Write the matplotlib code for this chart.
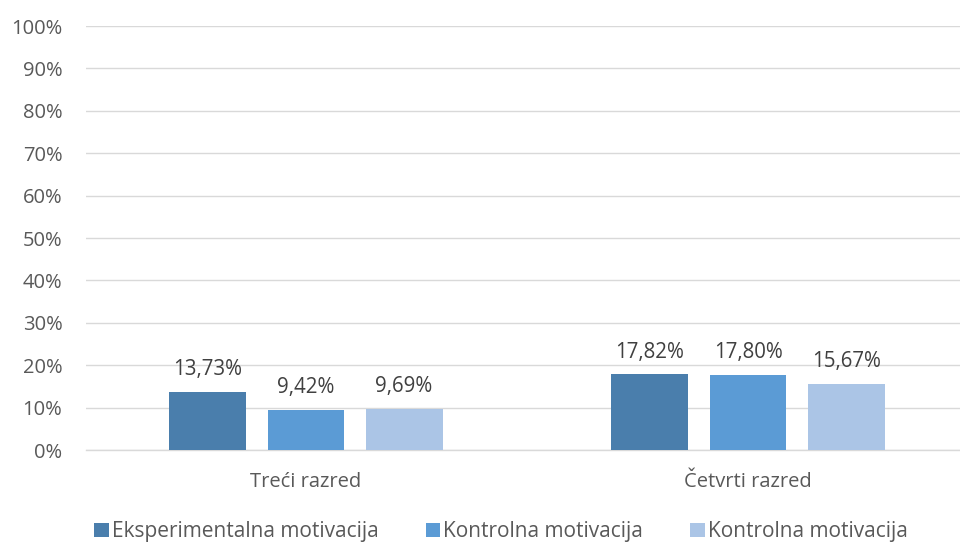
import matplotlib
matplotlib.use("Agg")
import matplotlib.pyplot as plt
import numpy as np

categories = ["Treći razred", "Četvrti razred"]
series_names = ["Eksperimentalna motivacija", "Kontrolna motivacija", "Kontrolna motivacija"]
values = [
    [13.73, 17.82],
    [9.42, 17.80],
    [9.69, 15.67],
]
yticks = list(range(0, 101, 10))
colors = ["#4a7eac", "#5b9bd5", "#abc5e6"]

plt.rcParams['font.family'] = ['Open Sans', 'DejaVu Sans']
text_color = "#595959"

fig = plt.figure(figsize=(9.6, 5.44), dpi=100)
ax = fig.add_axes([86/960, 1 - 450/544, (960-86)/960, (450-26)/544])

x = np.arange(len(categories))
bw = 0.174
step = 0.222
for i, (name, vals) in enumerate(zip(series_names, values)):
    pos = x + (i - 1) * step
    ax.bar(pos, vals, width=bw, color=colors[i], label=name, zorder=3)
    for p, v in zip(pos, vals):
        ax.text(p, v + 2.8, f"{v:.2f}%".replace(".", ","), ha="center", va="bottom",
                fontsize=14.8, color="#404040")

ax.set_ylim(0, 100)
ax.set_xlim(-0.4977, 1.4796)
ax.set_yticks(yticks)
ax.set_yticklabels([f"{t}%" for t in yticks], fontsize=14.5, color=text_color)
ax.set_xticks(x)
ax.set_xticklabels(categories, fontsize=14.5, color=text_color)
ax.tick_params(axis="both", length=0)
ax.tick_params(axis="y", pad=17)
ax.tick_params(axis="x", pad=16)
ax.grid(axis="y", color="#d9d9d9", linewidth=1, zorder=0)
for s in ["top", "right", "left"]:
    ax.spines[s].set_visible(False)
ax.spines["bottom"].set_color("#d9d9d9")
ax.spines["bottom"].set_linewidth(1)

fig.legend(loc="lower center", bbox_to_anchor=(0.522, -0.031), ncol=3, frameon=False,
           fontsize=15, handlelength=0.7, handleheight=0.7, handletextpad=0.15,
           columnspacing=2.26, labelcolor=text_color)

fig.savefig("out.png", dpi=100)
